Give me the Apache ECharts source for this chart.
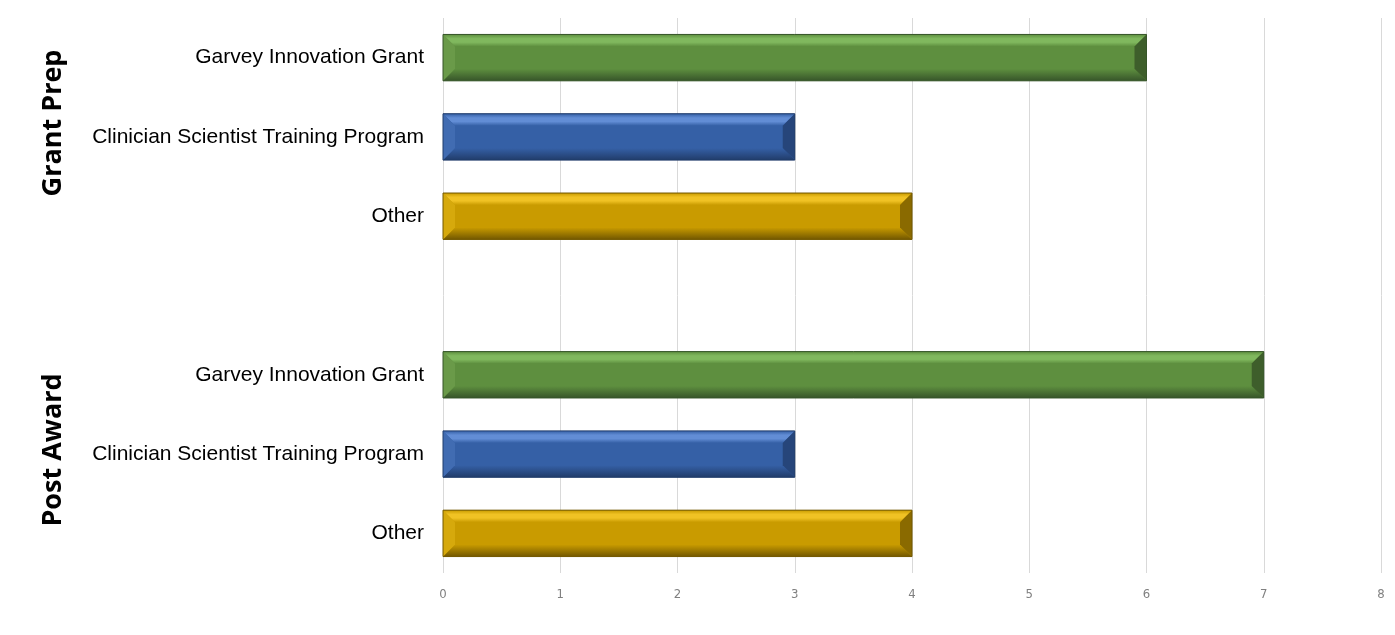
<!DOCTYPE html>
<html>
<head>
<meta charset="utf-8">
<script src="https://cdn.jsdelivr.net/npm/echarts@6/dist/echarts.min.js"></script>
<style>html,body{margin:0;padding:0;background:#fff;}#c{width:1395px;height:635px;}</style>
</head>
<body>
<div id="c"></div>
<script>
// ---- data ----
const categories = ['Garvey Innovation Grant', 'Clinician Scientist Training Program', 'Other', '',
                    'Garvey Innovation Grant', 'Clinician Scientist Training Program', 'Other'];
const values = [6, 3, 4, null, 7, 3, 4];
const kinds = ['garvey', 'cstp', 'other', null, 'garvey', 'cstp', 'other'];
const groupLabels = ['Grant Prep', 'Post Award'];
const xTicks = [0, 1, 2, 3, 4, 5, 6, 7, 8];

// ---- styles ----
const palette = {
  garvey: {main: '#5e8f3f', light: '#80b85e', dark: '#37552a', side: '#6a9a49', rside: '#3e5e2b'},
  cstp:   {main: '#3560a6', light: '#628dd5', dark: '#213c6a', side: '#416cb2', rside: '#26457a'},
  other:  {main: '#c99b00', light: '#f0c224', dark: '#735800', side: '#d6a90c', rside: '#8a6a00'}
};

const seriesData = [];
values.forEach((v, i) => { if (v != null) seriesData.push([v, i, kinds[i]]); });

function renderItem(params, api) {
  const v = api.value(0), idx = api.value(1);
  const k = seriesData[params.dataIndex][2];
  const c = palette[k];
  const p0 = api.coord([0, idx]);
  const p1 = api.coord([v, idx]);
  const bh = api.size([0, 1])[1] * 0.585;
  const x0 = p0[0], x1 = p1[0], y0 = p0[1] - bh / 2, y1 = p0[1] + bh / 2;
  const b = 12;
  const vg = (stops) => new echarts.graphic.LinearGradient(0, 0, 0, 1, stops);
  return {
    type: 'group',
    children: [
      {type: 'rect', shape: {x: x0, y: y0, width: x1 - x0, height: y1 - y0}, style: {fill: c.main}},
      {type: 'polygon', shape: {points: [[x0, y0], [x1, y0], [x1 - b, y0 + b], [x0 + b, y0 + b]]},
       style: {fill: vg([{offset: 0, color: c.main}, {offset: 0.35, color: c.light}, {offset: 0.65, color: c.light}, {offset: 1, color: c.main}])}},
      {type: 'polygon', shape: {points: [[x0, y1], [x1, y1], [x1 - b, y1 - b], [x0 + b, y1 - b]]},
       style: {fill: vg([{offset: 0, color: c.main}, {offset: 1, color: c.dark}])}},
      {type: 'polygon', shape: {points: [[x0, y0], [x0 + b, y0 + b], [x0 + b, y1 - b], [x0, y1]]},
       style: {fill: c.side}},
      {type: 'polygon', shape: {points: [[x1, y0], [x1 - b, y0 + b], [x1 - b, y1 - b], [x1, y1]]},
       style: {fill: c.rside}},
      {type: 'rect', shape: {x: x0, y: y0, width: x1 - x0, height: y1 - y0},
       style: {fill: 'none', stroke: c.dark, lineWidth: 1}}
    ]
  };
}

const chart = echarts.init(document.getElementById('c'));
chart.setOption({
  animation: false,
  grid: {left: 443, right: 14, top: 18, bottom: 62, containLabel: false},
  xAxis: {
    type: 'value', min: xTicks[0], max: xTicks[xTicks.length - 1], interval: 1,
    axisLine: {show: false}, axisTick: {show: false},
    splitLine: {show: true, lineStyle: {color: '#d9d9d9', width: 1}},
    axisLabel: {color: '#808080', fontSize: 13, margin: 15, fontFamily: 'Liberation Sans Narrow, DejaVu Sans Condensed, sans-serif'}
  },
  yAxis: {
    type: 'category', data: categories, inverse: true,
    axisLine: {show: false}, axisTick: {show: false}, splitLine: {show: false},
    axisLabel: {color: '#000', fontSize: 21, margin: 19, fontFamily: 'Liberation Sans, Arial, sans-serif'}
  },
  graphic: [
    {type: 'text', x: 53, y: 123, rotation: Math.PI / 2,
     style: {text: groupLabels[0], font: 'bold 27px "Open Sans", sans-serif', fill: '#000', align: 'center', verticalAlign: 'middle'}},
    {type: 'text', x: 53, y: 450, rotation: Math.PI / 2,
     style: {text: groupLabels[1], font: 'bold 27px "Open Sans", sans-serif', fill: '#000', align: 'center', verticalAlign: 'middle'}}
  ],
  series: [{
    type: 'custom',
    renderItem: renderItem,
    encode: {x: 0, y: 1},
    data: seriesData.map(d => [d[0], d[1]])
  }]
});
</script>
</body>
</html>
